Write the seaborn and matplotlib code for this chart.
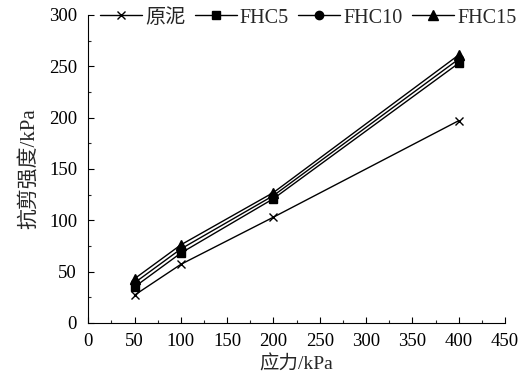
import matplotlib
matplotlib.use("Agg")
import matplotlib.pyplot as plt
import seaborn as sns
import pandas as pd
from matplotlib.ticker import MultipleLocator

stress = [50, 100, 200, 400]
series_names = ["原泥", "FHC5", "FHC10", "FHC15"]
raw_mud = [27, 57, 103, 197]
fhc5 = [35, 68, 121, 253]
fhc10 = [39, 72, 124, 257]
fhc15 = [43, 76, 127, 261]
markers = ["x", "s", "o", "^"]
marker_sizes = [6, 6, 6, 7]

sns.set_theme(style="ticks")
plt.rcParams["font.family"] = ["Liberation Serif", "Noto Sans CJK SC"]
plt.rcParams["axes.unicode_minus"] = False

fig = plt.figure(figsize=(5.25, 3.83), dpi=100)
ax = fig.add_axes([0.168, 0.157, 0.794, 0.804])

for name, vals, mk, ms in zip(series_names, [raw_mud, fhc5, fhc10, fhc15], markers, marker_sizes):
    df = pd.DataFrame({"x": stress, "y": vals})
    sns.lineplot(data=df, x="x", y="y", ax=ax, color="black", linewidth=1.0,
                 marker=mk, markersize=ms,
                 markeredgecolor="black", markerfacecolor="black",
                 markeredgewidth=1.0, label=name)

ax.set_xlim(0, 450)
ax.set_ylim(0, 300)
ax.xaxis.set_major_locator(MultipleLocator(50))
ax.xaxis.set_minor_locator(MultipleLocator(25))
ax.yaxis.set_major_locator(MultipleLocator(50))
ax.yaxis.set_minor_locator(MultipleLocator(25))
ax.tick_params(which="major", direction="in", length=4, width=0.8, labelsize=13.5, colors="black")
ax.tick_params(axis="x", which="major", pad=7)
ax.tick_params(axis="y", which="major", pad=8)
ax.tick_params(which="minor", direction="in", length=2.5, width=0.8)
for s in ["top", "right"]:
    ax.spines[s].set_visible(False)
for s in ["left", "bottom"]:
    ax.spines[s].set_color("black")
    ax.spines[s].set_linewidth(0.8)

ax.set_xlabel("应力/kPa", fontsize=14, labelpad=4)
ax.set_ylabel("抗剪强度/kPa", fontsize=15, labelpad=7)

ax.legend(loc="center left", bbox_to_anchor=(100 / 525, 1 - 18 / 383),
          bbox_transform=fig.transFigure, ncol=4, frameon=False,
          fontsize=14.5, handlelength=2.1, columnspacing=0.45, handletextpad=0.15,
          borderpad=0, borderaxespad=0)

fig.savefig("out.png", dpi=100)
